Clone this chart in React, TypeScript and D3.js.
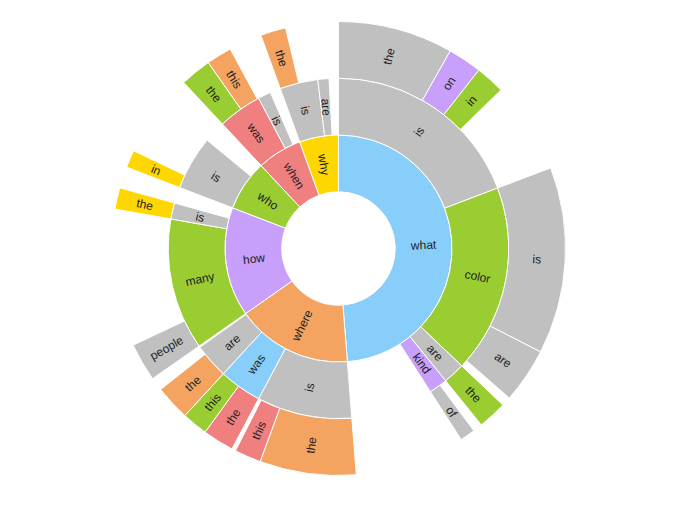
import React from 'react';
import * as d3 from 'd3';

// question words sunburst, values are the angular share (whole circle = 360)
// a parent whose children don't fill it leaves the rest blank; "_" marks a blank slot before a child
const nodePaths = [
  'what', 'what/is', 'what/is/the', 'what/is/on', 'what/is/in',
  'what/color', 'what/color/is', 'what/color/are',
  'what/are', 'what/are/the',
  'what/kind', 'what/kind/_', 'what/kind/of',
  'where', 'where/is', 'where/is/the', 'where/is/this',
  'where/was', 'where/was/the', 'where/was/this',
  'where/are', 'where/are/the',
  'how', 'how/many', 'how/many/people', 'how/is', 'how/is/the',
  'who', 'who/is', 'who/is/in',
  'when', 'when/was', 'when/was/the', 'when/was/this', 'when/is',
  'why', 'why/is', 'why/is/the', 'why/are',
];
const nodeValues = [
  175.5, 69.2, 29.5, 8.7, 7.5,
  64.4, 47.9, 14.1,
  7.4, 7.4,
  6.3, 2.4, 3.9,
  59.5, 32.5, 24.7, 6.8,
  14.6, 8, 6.6,
  11.9, 9,
  56, 45, 9.8, 5.5, 5.5,
  26, 18.5, 4.5,
  23, 15, 8, 6.5, 4.4,
  20, 13, 6.5, 3.8,
];
const nodeColorKeys = [
  'sky', 'silver', 'silver', 'purple', 'green',
  'green', 'silver', 'silver',
  'silver', 'green',
  'purple', '', 'silver',
  'orange', 'silver', 'orange', 'coral',
  'sky', 'coral', 'green',
  'silver', 'orange',
  'purple', 'green', 'silver', 'silver', 'gold',
  'green', 'silver', 'gold',
  'coral', 'coral', 'green', 'orange', 'silver',
  'gold', 'silver', 'orange', 'silver',
];

const palette: Record<string, string> = {
  sky: '#87cefa',
  silver: '#c0c0c0',
  green: '#9acd32',
  orange: '#f4a460',
  coral: '#f08080',
  gold: '#ffd700',
  purple: '#c89ffb',
};

type Node = { name: string; total: number; color: string; children: Node[] };

function buildTree(): Node {
  const root: Node = { name: '', total: 0, color: '', children: [] };
  const byPath = new Map<string, Node>();
  byPath.set('', root);
  nodePaths.forEach((p, i) => {
    const parts = p.split('/');
    const parent = byPath.get(parts.slice(0, -1).join('/'))!;
    const n: Node = { name: parts[parts.length - 1], total: nodeValues[i], color: nodeColorKeys[i], children: [] };
    parent.children.push(n);
    byPath.set(p, n);
  });
  return root;
}

const width = 677, height = 523;
const cx = 338.5, cy = 248.5;
const radius = 227;

export default function App() {
  const hier = d3.hierarchy(buildTree(), d => d.children)
    .sum(d => {
      const kids = d3.sum(d.children, c => c.total);
      return d.children.length ? Math.max(0, d.total - kids) : d.total;
    });
  const root = d3.partition<Node>().size([2 * Math.PI, 4])(hier);
  const r = d3.scaleLinear().domain([0, 4]).range([0, radius]);

  const arc = d3.arc<d3.HierarchyRectangularNode<Node>>()
    .startAngle(d => d.x0)
    .endAngle(d => d.x1)
    .innerRadius(d => r(d.y0))
    .outerRadius(d => r(d.y1));

  const nodes = root.descendants().filter(d => d.depth > 0 && !d.data.name.startsWith('_'));

  return (
    <svg width={width} height={height} style={{ position: 'absolute', left: 0, top: 0 }}>
      <g transform={`translate(${cx},${cy})`}>
        {nodes.map((d, i) => (
          <path key={'a' + i} d={arc(d) || ''} fill={palette[d.data.color]} stroke="#fff" strokeWidth={1} />
        ))}
        {nodes.map((d, i) => {
          const a = ((d.x0 + d.x1) / 2) * 180 / Math.PI;
          const rr = r((d.y0 + d.y1) / 2);
          const x = Math.sin((a * Math.PI) / 180) * rr;
          const y = -Math.cos((a * Math.PI) / 180) * rr;
          const rot = a < 180 ? a - 90 : a + 90;
          return (
            <text key={'t' + i} transform={`translate(${x},${y}) rotate(${rot})`}
              textAnchor="middle" dominantBaseline="central"
              style={{ font: '12px "Liberation Sans", Arial, sans-serif' }} fill="#222">
              {d.data.name}
            </text>
          );
        })}
      </g>
    </svg>
  );
}
